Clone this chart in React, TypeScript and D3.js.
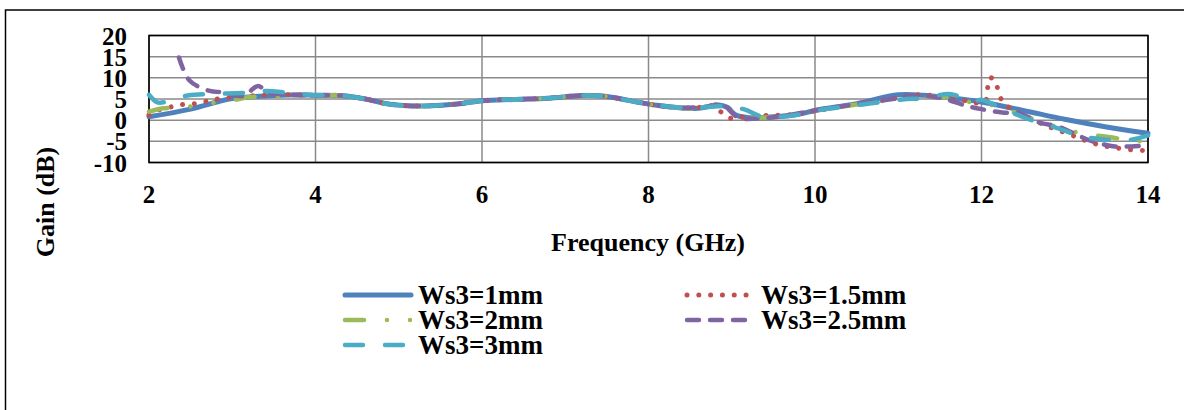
import React from 'react';
import * as d3 from 'd3';

// axis ticks
const freqTicks = [2, 4, 6, 8, 10, 12, 14];
const gainTicks = [-10, -5, 0, 5, 10, 15, 20];

// shared middle stretch (all five curves sit on top of each other here)
const midFreq = [4.0, 4.3, 4.6, 4.85, 5.1, 5.4, 5.7, 6.0, 6.4, 6.8, 7.2, 7.5, 7.8, 8.1, 8.4];
const midGain = [5.9, 5.8, 5.0, 3.9, 3.4, 3.4, 3.8, 4.6, 4.9, 5.2, 5.8, 5.6, 4.5, 3.5, 2.9];

// Ws3 = 1mm
const ws1Freq = [2.0, 2.5, 3.0, 3.5, 3.8, ...midFreq, 8.6, 8.85, 8.95, 9.05, 9.2, 9.5, 9.8, 10.0, 10.5, 11.0, 11.3, 11.6, 12.0, 12.5, 13.0, 13.5, 14.0];
const ws1Gain = [0.8, 2.6, 5.1, 5.8, 6.0, ...midGain, 2.8, 3.6, 3.0, 1.2, 0.6, 0.8, 1.4, 2.3, 3.9, 6.0, 5.9, 5.3, 4.3, 2.3, 0.2, -1.6, -3.1];

// Ws3 = 1.5mm
const ws15Freq = [2.0, 2.13, 2.28, 2.41, 2.55, 2.7, 2.85, 3.2, 3.6, ...midFreq, 8.6, 8.75, 8.86, 8.97, 9.12, 9.4, 9.7, 10.0, 10.5, 11.0, 11.2, 11.5, 11.8, 12.0, 12.05, 12.1, 12.17, 12.2, 12.26, 12.38, 12.6, 12.78, 12.9, 13.16, 13.3, 13.45, 13.6, 13.8, 14.0];
const ws15Gain = [1.2, 2.5, 3.2, 3.7, 3.9, 4.5, 5.1, 5.7, 6.0, ...midGain, 3.0, 3.4, 2.1, 0.5, 0.7, 1.1, 1.3, 2.2, 3.8, 5.3, 6.0, 5.6, 4.6, 4.0, 4.6, 10.0, 9.2, 6.8, 4.2, 2.4, 0.3, -1.3, -2.2, -4.1, -5.2, -6.0, -6.5, -7.0, -7.2];

// Ws3 = 2mm
const ws2Freq = [2.0, 2.17, 2.4, 2.73, 2.95, 3.2, 3.6, ...midFreq, 8.6, 8.8, 8.92, 8.98, 9.06, 9.3, 9.6, 10.0, 10.5, 11.0, 11.5, 11.8, 12.0, 12.2, 12.5, 12.7, 13.0, 13.3, 13.6, 13.8, 14.0];
const ws2Gain = [2.0, 2.8, 3.0, 4.0, 4.5, 5.4, 5.7, ...midGain, 2.9, 3.8, 4.5, 2.5, 1.0, 0.6, 0.9, 2.2, 3.7, 5.0, 5.5, 4.5, 3.8, 3.3, 1.0, -0.2, -2.2, -3.4, -4.2, -5.0, -4.8];

// Ws3 = 2.5mm
const ws25Freq = [2.36, 2.49, 2.73, 2.88, 3.13, 3.31, 3.42, 3.7, ...midFreq, 8.7, 8.9, 9.0, 9.08, 9.3, 9.6, 10.0, 10.5, 11.0, 11.2, 11.5, 11.8, 12.0, 12.25, 12.45, 12.7, 12.9, 13.1, 13.3, 13.6, 13.8, 14.0];
const ws25Gain = [14.8, 9.3, 6.9, 6.6, 5.7, 8.1, 6.6, 6.0, ...midGain, 3.2, 3.6, 1.8, 0.5, 0.4, 0.9, 2.3, 3.8, 5.2, 5.8, 5.3, 3.5, 2.6, 1.8, 1.6, -0.6, -1.4, -3.0, -4.8, -6.2, -6.2, -6.0];

// Ws3 = 3mm
const ws3Freq = [2.0, 2.1, 2.2, 2.43, 2.65, 2.94, 3.2, 3.42, 3.61, 3.9, ...midFreq, 8.6, 8.85, 9.0, 9.16, 9.34, 9.6, 9.82, 10.0, 10.57, 11.05, 11.3, 11.6, 11.7, 11.9, 12.0, 12.2, 12.4, 12.6, 12.9, 13.2, 13.5, 13.8, 14.0];
const ws3Gain = [6.0, 4.2, 4.3, 5.7, 6.1, 6.3, 6.5, 6.9, 6.6, 6.0, ...midGain, 2.9, 3.3, 3.0, 2.5, 1.0, 0.8, 1.4, 2.2, 3.7, 4.9, 5.2, 6.2, 5.8, 4.5, 4.8, 3.2, 1.5, 0.0, -1.8, -3.8, -4.6, -4.6, -3.6];

const seriesNames = ['Ws3=1mm', 'Ws3=1.5mm', 'Ws3=2mm', 'Ws3=2.5mm', 'Ws3=3mm'];
const seriesFreqs = [ws1Freq, ws15Freq, ws2Freq, ws25Freq, ws3Freq];
const seriesGains = [ws1Gain, ws15Gain, ws2Gain, ws25Gain, ws3Gain];

const colors = ['#4F81BD', '#C0504D', '#9BBB59', '#8064A2', '#4BACC6'];
const dashes = ['none', '0.01,11.8', '19,23,0.01,23,0.01,23', '12,11', '18,22'];
const widths = [5, 5, 4.5, 4.5, 4.5];

const FONT = '"Liberation Serif", "Times New Roman", serif';

export default function App() {
  const W = 1184, H = 410;
  const x = d3.scaleLinear().domain([2, 14]).range([149, 1148]);
  const y = d3.scaleLinear().domain([-10, 20]).range([162.5, 35.5]);

  const line = d3.line<[number, number]>()
    .x(d => x(d[0]))
    .y(d => y(d[1]))
    .curve(d3.curveCatmullRom.alpha(0.5));

  const [x0, x1] = x.range();
  const [yb, yt] = y.range();

  // legend layout (two columns, Excel style)
  const legendItems = seriesNames.map((name, i) => {
    const col = i % 2, row = Math.floor(i / 2);
    const lx = col === 0 ? 343 : 685;
    const ly = 295 + row * 25;
    return { name, i, lx, ly, len: col === 0 ? 70 : 64, tx: col === 0 ? 418 : 761 };
  });

  return (
    <div style={{ position: 'absolute', left: 0, top: 0 }}>
      <svg width={W} height={H} style={{ display: 'block', background: '#fff' }}>
        {/* outer chart frame */}
        <rect x={5.5} y={10} width={1300} height={600} fill="none" stroke="#000" strokeWidth={1.5} />

        {/* grid */}
        {gainTicks.map(t => (
          <line key={'gy' + t} x1={x0} x2={x1} y1={y(t)} y2={y(t)} stroke="#8a8a8a" strokeWidth={1.5} />
        ))}
        {freqTicks.map(t => (
          <line key={'gx' + t} x1={x(t)} x2={x(t)} y1={yt} y2={yb} stroke="#8a8a8a" strokeWidth={1.5} />
        ))}
        <rect x={x0} y={yt} width={x1 - x0} height={yb - yt} fill="none" stroke="#000" strokeWidth={1.6} />

        {/* series */}
        {seriesNames.map((name, i) => {
          const pts = seriesFreqs[i].map((f, k) => [f, seriesGains[i][k]] as [number, number]);
          return (
            <path key={name} d={line(pts) || ''} fill="none" stroke={colors[i]}
              strokeWidth={widths[i]} strokeDasharray={dashes[i]}
              strokeLinecap="round" strokeLinejoin="round" />
          );
        })}

        {/* tick labels */}
        <g fontFamily={FONT} fontWeight="bold" fontSize={25} fill="#000">
          {gainTicks.map(t => (
            <text key={'ty' + t} x={127} y={y(t)} dy="0.36em" textAnchor="end">{t}</text>
          ))}
          {freqTicks.map(t => (
            <text key={'tx' + t} x={x(t)} y={203} textAnchor="middle">{t}</text>
          ))}
        </g>

        {/* axis titles */}
        <text x={648} y={251} textAnchor="middle" fontFamily={FONT} fontWeight="bold" fontSize={26}>Frequency (GHz)</text>
        <text transform="translate(54,202) rotate(-90)" textAnchor="middle" fontFamily={FONT} fontWeight="bold" fontSize={26}>Gain (dB)</text>

        {/* legend */}
        {legendItems.map(d => (
          <g key={d.name}>
            <line x1={d.lx + 2} x2={d.lx + d.len - 2} y1={d.ly} y2={d.ly} stroke={colors[d.i]}
              strokeWidth={widths[d.i]} strokeDasharray={dashes[d.i]} strokeLinecap="round" />
            <text x={d.tx} y={d.ly} dy="0.33em" fontFamily={FONT} fontWeight="bold" fontSize={27}>{d.name}</text>
          </g>
        ))}
      </svg>
    </div>
  );
}
